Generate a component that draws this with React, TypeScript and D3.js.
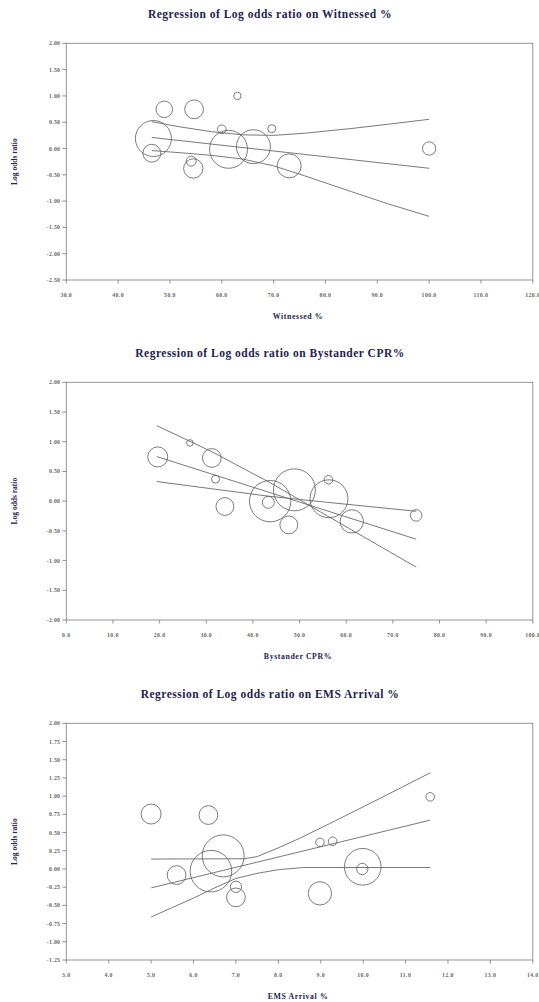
import React from "react";
import * as d3 from "d3";

// ---------- Panel 1: Witnessed % ----------
const p1Title = "Regression of Log odds ratio on Witnessed %";
const p1XLabel = "Witnessed %";
const p1XTicks = [30, 40, 50, 60, 70, 80, 90, 100, 110, 120];
const p1YTicks = [2, 1.5, 1, 0.5, 0, -0.5, -1, -1.5, -2, -2.5];
const p1X = [46.8, 46.5, 48.9, 54.65, 63.0, 60.0, 69.65, 61.3, 66.1, 73.0, 54.1, 54.5, 100.0];
const p1Y = [0.19, -0.09, 0.745, 0.745, 1.0, 0.365, 0.376, -0.015, 0.035, -0.33, -0.24, -0.38, 0.0];
const p1W = [81, 20, 17, 22, 3.4, 4.6, 4, 90, 72, 36, 6.3, 23.5, 11];
const p1FitX = [46.5, 100];
const p1FitY = [0.21, -0.376];
const p1CiX = [46.5, 52, 58, 64, 70, 76, 85, 92, 100];
const p1Upper = [0.51, 0.41, 0.32, 0.26, 0.25, 0.29, 0.38, 0.46, 0.555];
const p1Lower = [-0.04, -0.08, -0.13, -0.2, -0.33, -0.52, -0.82, -1.05, -1.29];

// ---------- Panel 2: Bystander CPR% ----------
const p2Title = "Regression of Log odds ratio on Bystander CPR%";
const p2XLabel = "Bystander CPR%";
const p2XTicks = [0, 10, 20, 30, 40, 50, 60, 70, 80, 90, 100];
const p2YTicks = [2, 1.5, 1, 0.5, 0, -0.5, -1, -1.5, -2];
const p2X = [19.6, 26.5, 31.2, 32.0, 34.0, 43.7, 43.3, 47.7, 48.9, 56.3, 56.2, 61.2, 75.0];
const p2Y = [0.744, 0.98, 0.727, 0.37, -0.09, 0.0, -0.02, -0.4, 0.19, 0.04, 0.36, -0.34, -0.24];
const p2W = [25, 2.7, 22, 4, 20, 107, 9, 20, 110, 90, 4.6, 34, 8.4];
const p2FitX = [19.4, 75];
const p2FitY = [0.75, -0.64];
const p2CiX = [19.4, 31, 43.7, 56, 75];
const p2Upper = [1.27, 0.84, 0.31, -0.25, -1.11];
const p2Lower = [0.33, 0.21, 0.08, -0.02, -0.17];

// ---------- Panel 3: EMS Arrival % ----------
const p3Title = "Regression of Log odds ratio on EMS Arrival %";
const p3XLabel = "EMS Arrival %";
const p3XTicks = [3, 4, 5, 6, 7, 8, 9, 10, 11, 12, 13, 14];
const p3YTicks = [2, 1.75, 1.5, 1.25, 1, 0.75, 0.5, 0.25, 0, -0.25, -0.5, -0.75, -1, -1.25];
const p3X = [5.0, 6.35, 6.7, 6.41, 5.6, 7.0, 7.0, 8.98, 8.98, 9.28, 9.99, 9.98, 11.58];
const p3Y = [0.754, 0.74, 0.18, -0.03, -0.084, -0.245, -0.39, -0.335, 0.365, 0.38, 0.03, 0.0, 0.99];
const p3W = [25, 22, 110, 108, 22, 8, 22, 34, 4.6, 4.6, 84, 8, 4.6];
const p3FitX = [5.0, 11.58];
const p3FitY = [-0.26, 0.67];
const p3UpX = [5.0, 7.2, 7.5, 8.0, 8.5, 9.2, 10.4, 11.58];
const p3Upper = [0.136, 0.14, 0.17, 0.29, 0.42, 0.62, 0.97, 1.32];
const p3LowX = [5.0, 5.5, 6.0, 6.5, 7.0, 7.5, 8.0, 8.6, 11.58];
const p3Lower = [-0.66, -0.53, -0.4, -0.26, -0.13, -0.06, -0.01, 0.02, 0.02];

const W = 539;
const H = 1002;
const serif = "'Liberation Serif', 'Times New Roman', serif";
const navy = "#23234f";

type PanelProps = {
  title: string;
  titleY: number;
  xLabel: string;
  xTicks: number[];
  yTicks: number[];
  xFmt: (v: number) => string;
  top: number;
  bottom: number;
  xs: number[];
  ys: number[];
  ws: number[];
  lines: { x: number[]; y: number[] }[];
};

const rScale = d3.scaleSqrt().domain([0, 100]).range([0, 20]);

function Panel(p: PanelProps) {
  const left = 66.3;
  const right = 532.8;
  const x = d3
    .scaleLinear()
    .domain([p.xTicks[0], p.xTicks[p.xTicks.length - 1]])
    .range([left, right]);
  const y = d3
    .scaleLinear()
    .domain([p.yTicks[p.yTicks.length - 1], p.yTicks[0]])
    .range([p.bottom, p.top]);
  const line = d3
    .line<[number, number]>()
    .x((d) => x(d[0]))
    .y((d) => y(d[1]));
  return (
    <g>
      <text
        x={270}
        y={p.titleY}
        textAnchor="middle"
        fontFamily={serif}
        fontWeight="bold"
        fontSize={11.5}
        letterSpacing={0.5}
        fill={navy}
      >
        {p.title}
      </text>
      <rect
        x={left}
        y={p.top}
        width={right - left}
        height={p.bottom - p.top}
        fill="none"
        stroke="#8a8a8a"
        strokeWidth={0.9}
      />
      {p.yTicks.map((t) => (
        <g key={"y" + t}>
          <line x1={left - 4} x2={left} y1={y(t)} y2={y(t)} stroke="#777" strokeWidth={0.8} />
          <text
            x={left - 6}
            y={y(t) + 2}
            textAnchor="end"
            fontFamily={serif}
            fontWeight="bold"
            fontSize={5.8}
            letterSpacing={0.3}
            fill="#666"
          >
            {t.toFixed(2)}
          </text>
        </g>
      ))}
      {p.xTicks.map((t) => (
        <g key={"x" + t}>
          <line x1={x(t)} x2={x(t)} y1={p.bottom} y2={p.bottom + 3.5} stroke="#777" strokeWidth={0.8} />
          <text
            x={x(t)}
            y={p.bottom + 17}
            textAnchor="middle"
            fontFamily={serif}
            fontWeight="bold"
            fontSize={5.8}
            letterSpacing={0.4}
            fill="#666"
          >
            {p.xFmt(t)}
          </text>
        </g>
      ))}
      <text
        x={298}
        y={p.bottom + 39}
        textAnchor="middle"
        fontFamily={serif}
        fontWeight="bold"
        fontSize={7.8}
        letterSpacing={0.6}
        fill={navy}
      >
        {p.xLabel}
      </text>
      <text
        transform={`translate(17,${(p.top + p.bottom) / 2}) rotate(-90)`}
        textAnchor="middle"
        fontFamily={serif}
        fontWeight="bold"
        fontSize={7.5}
        fill={navy}
      >
        Log odds ratio
      </text>
      {p.lines.map((l, i) => (
        <path
          key={"l" + i}
          d={line(l.x.map((v, j) => [v, l.y[j]] as [number, number])) || ""}
          fill="none"
          stroke="#6a6a6a"
          strokeWidth={0.9}
        />
      ))}
      {p.xs.map((v, i) => (
        <circle
          key={"c" + i}
          cx={x(v)}
          cy={y(p.ys[i])}
          r={rScale(p.ws[i])}
          fill="none"
          stroke="#5a5a5a"
          strokeWidth={0.8}
        />
      ))}
    </g>
  );
}

export default function App() {
  const f1 = (v: number) => v.toFixed(1);
  return (
    <svg
      width={W}
      height={H}
      style={{ position: "absolute", left: 0, top: 0, background: "#fff" }}
    >
      <rect x={0} y={0} width={W} height={H} fill="#fff" />
      <Panel
        title={p1Title}
        titleY={18}
        xLabel={p1XLabel}
        xTicks={p1XTicks}
        yTicks={p1YTicks}
        xFmt={f1}
        top={43.3}
        bottom={280}
        xs={p1X}
        ys={p1Y}
        ws={p1W}
        lines={[
          { x: p1FitX, y: p1FitY },
          { x: p1CiX, y: p1Upper },
          { x: p1CiX, y: p1Lower },
        ]}
      />
      <Panel
        title={p2Title}
        titleY={357}
        xLabel={p2XLabel}
        xTicks={p2XTicks}
        yTicks={p2YTicks}
        xFmt={f1}
        top={382.3}
        bottom={620}
        xs={p2X}
        ys={p2Y}
        ws={p2W}
        lines={[
          { x: p2FitX, y: p2FitY },
          { x: p2CiX, y: p2Upper },
          { x: p2CiX, y: p2Lower },
        ]}
      />
      <Panel
        title={p3Title}
        titleY={698}
        xLabel={p3XLabel}
        xTicks={p3XTicks}
        yTicks={p3YTicks}
        xFmt={f1}
        top={723.3}
        bottom={960}
        xs={p3X}
        ys={p3Y}
        ws={p3W}
        lines={[
          { x: p3FitX, y: p3FitY },
          { x: p3UpX, y: p3Upper },
          { x: p3LowX, y: p3Lower },
        ]}
      />
    </svg>
  );
}
